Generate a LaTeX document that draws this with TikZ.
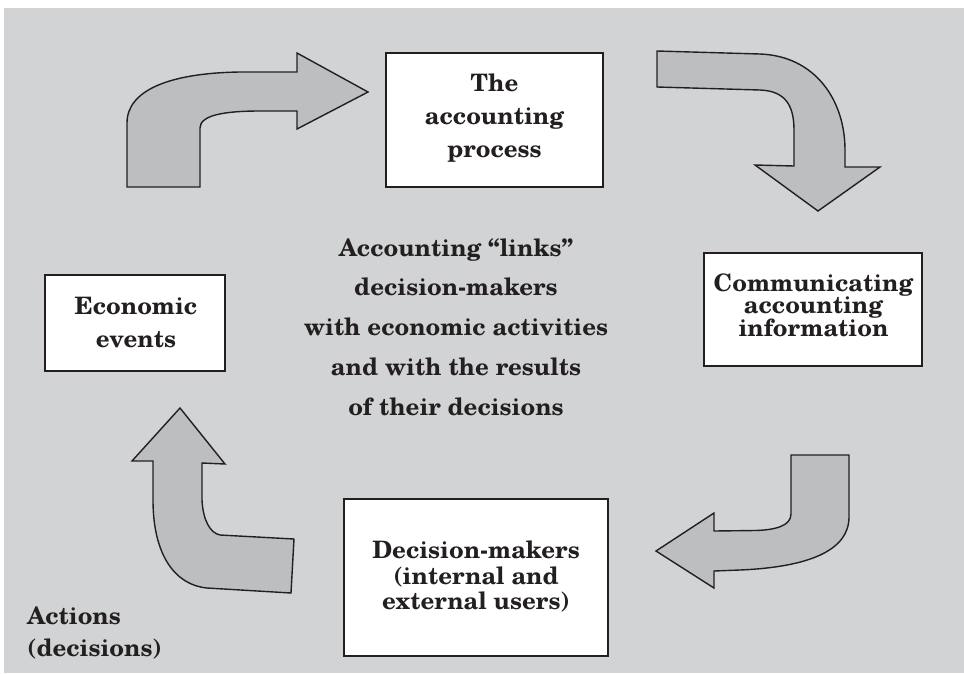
\documentclass[tikz,border=0pt]{standalone}
\usepackage{fontspec}
\newfontfamily\schola{texgyreschola-bold.otf}
\definecolor{bgc}{HTML}{D1D3D4}
\definecolor{arrowc}{HTML}{BCBEC0}
\definecolor{ink}{HTML}{231F20}
\begin{document}
\begin{tikzpicture}[x=1pt,y=-1pt,
  boxnode/.style={draw=ink, line width=1.8pt, fill=white, inner sep=0pt},
  txt/.style={text=ink, inner sep=0pt, align=center, font=\schola\fontsize{24}{33}\selectfont},
  bentarrow/.style={draw=ink, line width=1.4pt, fill=arrowc, line join=miter}]
\useasboundingbox (0,0) rectangle (964,673);
\fill[bgc] (4,8) rectangle (964,673);

% boxes
\node[boxnode, minimum width=217pt, minimum height=134pt] (process) at (494.5,120) {};
\node[boxnode, minimum width=218pt, minimum height=113pt] (comm) at (813,309.5) {};
\node[boxnode, minimum width=180pt, minimum height=96pt] (econ) at (135,323) {};
\node[boxnode, minimum width=264pt, minimum height=157pt] (decide) at (476,577.5) {};

% texts
\node[txt] (processtext) at (494.5,118.3) {The\\accounting\\process};
\node[txt, font=\schola\fontsize{24}{22.5}\selectfont] (commtext) at (813.5,305) {Communicating\\accounting\\information};
\node[txt] (econtext) at (136,323) {Economic\\events};
\node[txt, font=\schola\fontsize{24}{25.5}\selectfont] (decidetext) at (476,576.8) {Decision-makers\\(internal and\\external users)};
\node[txt, font=\schola\fontsize{24}{39.75}\selectfont] (centertext) at (456,326.8) {Accounting “links”\\decision-makers\\with economic activities\\and with the results\\of their decisions};
\node[txt, align=left, anchor=west, font=\schola\fontsize{24}{32}\selectfont] (actions) at (27,633.3) {Actions\\(decisions)};

% arrow 1: up then right, into the accounting process
\draw[bentarrow] (127,187) -- (127,123) .. controls (127,90) and (170,73) .. (240,72) -- (297,72)
  -- (297,53) -- (368,92) -- (297,129) -- (297,111) -- (260,111)
  .. controls (225,111) and (200,115) .. (200,128) -- (200,187) -- cycle;

% arrow 2: right then down
\draw[bentarrow] (657,51) -- (760,54) .. controls (815,56) and (845,100) .. (845,150) -- (845,167)
  -- (880,167) -- (818,211) -- (755,165) -- (794,166) -- (794,130)
  .. controls (794,105) and (785,91) .. (760,90) -- (657,87) -- cycle;

% arrow 3: down then left
\draw[bentarrow] (791,455) -- (849,455) -- (849,517) .. controls (849,550) and (810,567) .. (740,570)
  -- (714,571) -- (714,588) -- (656,551) -- (714,513) -- (714,531) -- (755,530.5)
  .. controls (775,530) and (791,526) .. (791,514) -- cycle;

% arrow 4: left then up
\draw[bentarrow] (294,539) -- (291,593) -- (207,588) .. controls (175,585) and (153,555) .. (153,500)
  -- (153,461) -- (132,461) -- (180,408) -- (225,464) -- (202,463) -- (202,500)
  .. controls (203,520) and (210,533) .. (220,535) -- cycle;
\end{tikzpicture}
\end{document}
